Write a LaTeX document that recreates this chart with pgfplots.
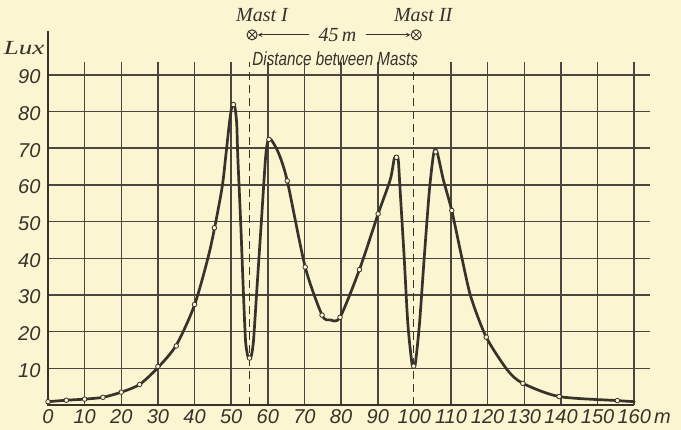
\documentclass[border=0pt]{standalone}
\usepackage{fontspec}
\setmainfont{Liberation Serif}
\newfontfamily\tickfont{Liberation Sans}
\newfontfamily\condfont{Liberation Sans}[FakeStretch=0.8]
\usepackage{pgfplots}
\pgfplotsset{compat=1.18}
\definecolor{paper}{RGB}{251,245,210}
\definecolor{ink}{RGB}{55,50,42}
\begin{document}
\begin{tikzpicture}[x=1pt,y=1pt]
\fill[paper] (-48,-25) rectangle (633,405);
\useasboundingbox (-48,-25) rectangle (633,405);
\begin{axis}[at={(0,0)}, anchor=south west, scale only axis,
  width=602pt, height=343pt,
  xmin=0, xmax=164.3, ymin=0, ymax=93.5,
  axis line style={draw=none},
  xtick={0,10,20,30,40,50,60,70,80,90,110,120,130,140,150,160},
  xticklabels={0,10,20,30,40,50,60,70,80,90,110,120,130,140,150,{160\rlap{\,m}}},
  extra x ticks={100}, extra x tick labels={100},
  extra x tick style={grid=none, major tick length=0pt},
  ytick={10,20,...,90},
  yticklabels={10,20,30,40,50,60,70,80,90},
  major tick length=0pt,
  grid=major, grid style={ink!90, line width=1.5pt},
  clip=false,
  /pgf/number format/assume math mode=true,
  xticklabel style={font=\tickfont\itshape\fontsize{20}{20}\selectfont, text=ink, yshift=-1pt},
  yticklabel style={font=\tickfont\itshape\fontsize{20}{20}\selectfont, text=ink, xshift=-4pt, yshift=-2pt},
]
% axes
\addplot[ink, line width=1.8pt] coordinates {(0,102) (0,0) (160,0)};
% mast lines
\addplot[ink, line width=1.1pt, dash pattern=on 8pt off 5pt] coordinates {(55,0) (55,93.5)};
\addplot[ink, line width=1.1pt, dash pattern=on 8pt off 5pt] coordinates {(99.8,0) (99.8,93.5)};
% curve
\addplot[ink, line width=2.7pt, smooth, tension=0.45, no markers, line join=round, line cap=round] coordinates {
 (0,0.9) (5,1.3) (10,1.6) (15,2.1) (20,3.5) (25,5.6) (30,10.2) (35,16.3) (40,27.3)
 (44.2,42.3) (47.4,58.6) (48.5,67.7) (49.5,76.8) (50.2,81.4) (50.9,81.8) (51.5,76.8)
 (51.8,67.7) (52.6,49.5) (53.3,31.4) (53.9,17.7) (54.5,13.4) (55,12.8) (55.5,13.4)
 (56.1,17.7) (57,31.4) (58.2,49.5) (59.4,67.7) (60.1,72.3) (61,72.2) (63,68.5) (65.3,61.1)
 (70.2,37.6) (74.8,24.5) (77,23.2) (79.7,23.9) (85,36.9) (90.1,52.1) (93.4,61.4)
 (94.5,67.2) (95.1,67.8) (95.6,66.8) (96.1,58.6) (97.2,40.4) (98.2,22.3) (99.3,11.5) (99.8,10.6)
 (100.3,11.5) (101.4,22.3) (102.7,40.4) (104.1,58.6) (105.3,68.8) (106.2,68.9) (107.9,61.4)
 (110.2,53) (112.9,40.4) (115.4,29.5) (119.6,18.5) (125.4,9.5) (129.6,5.9) (139.5,2.3)
 (155.4,1.2) (160,0.9)};
% measured points
\addplot[only marks, mark=*, mark size=2.3pt, mark options={fill=paper, draw=ink, line width=0.8pt}] coordinates {
 (0,0.9) (5,1.3) (10,1.6) (15,2.1) (20,3.5) (25,5.6) (30,10.5) (35,16.1) (40,27.4)
 (45.4,48.3) (50.6,81.9) (55,12.8) (60.3,72.4) (65.3,61.1) (70.2,37.6) (74.8,24.5) (79.7,23.9)
 (85,36.9) (90.1,52.1) (95.1,67.5) (99.8,10.6) (105.8,69.0) (110.2,53) (119.6,18.5)
 (129.6,5.9) (139.5,2.3) (155.4,1.2)};
% annotations
\node[font=\itshape\fontsize{20}{20}\selectfont, text=ink, anchor=east] at (axis cs:0,97.4) {\scalebox{1.35}[1]{Lux}};
\node[font=\itshape\fontsize{20}{20}\selectfont, text=ink] at (axis cs:58.4,106.4) {Mast I};
\node[font=\itshape\fontsize{20}{20}\selectfont, text=ink] at (axis cs:102.4,106.4) {Mast II};
\node[circle, draw=ink, line width=1pt, minimum size=10pt, inner sep=0pt,
  path picture={\draw[ink, line width=0.8pt] (path picture bounding box.north west)--(path picture bounding box.south east) (path picture bounding box.north east)--(path picture bounding box.south west);}]
  at (axis cs:55.7,100.9) {};
\node[circle, draw=ink, line width=1pt, minimum size=10pt, inner sep=0pt,
  path picture={\draw[ink, line width=0.8pt] (path picture bounding box.north west)--(path picture bounding box.south east) (path picture bounding box.north east)--(path picture bounding box.south west);}]
  at (axis cs:100.5,100.9) {};
\draw[ink, line width=0.9pt, -stealth] (axis cs:71.3,100.9) -- (axis cs:57.3,100.9);
\draw[ink, line width=0.9pt, -stealth] (axis cs:86.7,100.9) -- (axis cs:98.9,100.9);
\node[font=\itshape\fontsize{20}{20}\selectfont, text=ink] at (axis cs:79.0,100.9) {45\,m};
\node[font=\condfont\itshape\fontsize{19}{19}\selectfont, text=ink] at (axis cs:78.4,94.3) {Distance between Masts};
\end{axis}
\end{tikzpicture}
\end{document}
